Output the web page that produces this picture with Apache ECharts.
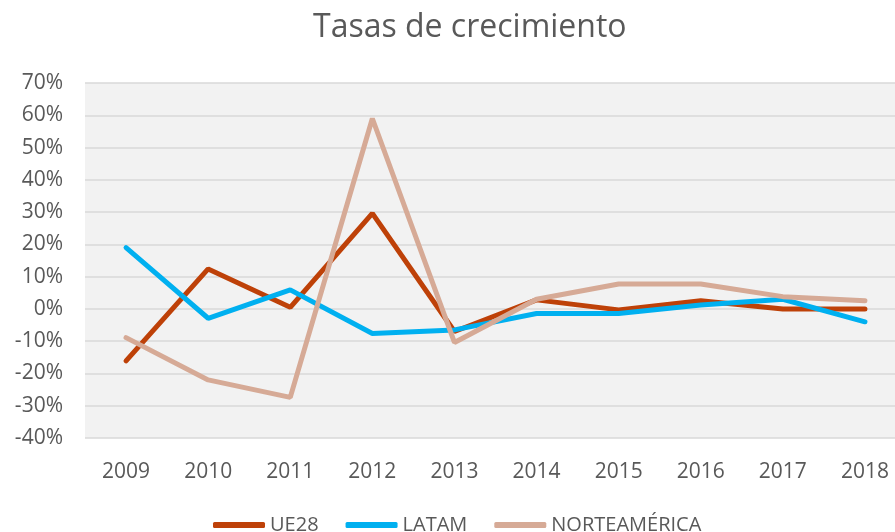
<!DOCTYPE html>
<html>
<head>
<meta charset="utf-8">
<title>Tasas de crecimiento</title>
<script src="https://cdn.jsdelivr.net/npm/echarts@6/dist/echarts.min.js"></script>
<style>
  html, body { margin: 0; padding: 0; background: #fff; overflow: hidden; }
  /* el área de trazado sobresale un poco por la derecha, como en el original */
  #chart { width: 906px; height: 532px; }
</style>
</head>
<body>
<div id="chart"></div>
<script>
  // datos (en %)
  var years = ['2009', '2010', '2011', '2012', '2013', '2014', '2015', '2016', '2017', '2018'];
  var ue28 = [-16.1, 12.4, 0.5, 29.6, -7, 2.8, -0.3, 2.5, 0, 0];
  var latam = [19, -2.9, 5.9, -7.6, -6.5, -1.4, -1.4, 1.2, 3, -4];
  var norteamerica = [-8.9, -22, -27.4, 59, -10.4, 3, 7.7, 7.7, 3.8, 2.5];

  var font = 'Open Sans';
  var grey = '#595959';

  var myChart = echarts.init(document.getElementById('chart'));
  myChart.setOption({
    animation: false,
    title: {
      text: 'Tasas de crecimiento',
      left: 308,
      top: 7,
      textStyle: {fontFamily: font, fontSize: 32, fontWeight: 'normal', color: grey}
    },
    legend: {
      top: 510,
      left: 208,
      icon: 'roundRect',
      itemWidth: 52,
      itemHeight: 6,
      itemGap: 27,
      textStyle: {fontFamily: font, fontSize: 20, color: grey},
      data: ['UE28', 'LATAM', 'NORTEAMÉRICA']
    },
    grid: {
      left: 85,
      right: 0,
      top: 83,
      bottom: 94,
      show: true,
      backgroundColor: '#F2F2F2',
      borderWidth: 0
    },
    xAxis: {
      type: 'category',
      data: years,
      boundaryGap: true,
      axisLine: {show: false},
      axisTick: {show: false},
      axisLabel: {fontFamily: font, fontSize: 21, color: grey, margin: 24}
    },
    yAxis: {
      type: 'value',
      min: -40,
      max: 70,
      interval: 10,
      axisLine: {show: false},
      axisTick: {show: false},
      axisLabel: {fontFamily: font, fontSize: 21, color: grey, margin: 22, formatter: '{value}%'},
      splitLine: {lineStyle: {color: '#D9D9D9', width: 1.5}}
    },
    series: [
      {
        name: 'UE28',
        type: 'line',
        data: ue28,
        symbol: 'none',
        itemStyle: {color: '#BE4108'},
        lineStyle: {width: 5, color: '#BE4108', cap: 'round'}
      },
      {
        name: 'LATAM',
        type: 'line',
        data: latam,
        symbol: 'none',
        itemStyle: {color: '#00B0F0'},
        lineStyle: {width: 5, color: '#00B0F0', cap: 'round'}
      },
      {
        name: 'NORTEAMÉRICA',
        type: 'line',
        data: norteamerica,
        symbol: 'none',
        itemStyle: {color: '#D6AA96'},
        lineStyle: {width: 5, color: '#D6AA96', cap: 'round'}
      }
    ]
  });
</script>
</body>
</html>
